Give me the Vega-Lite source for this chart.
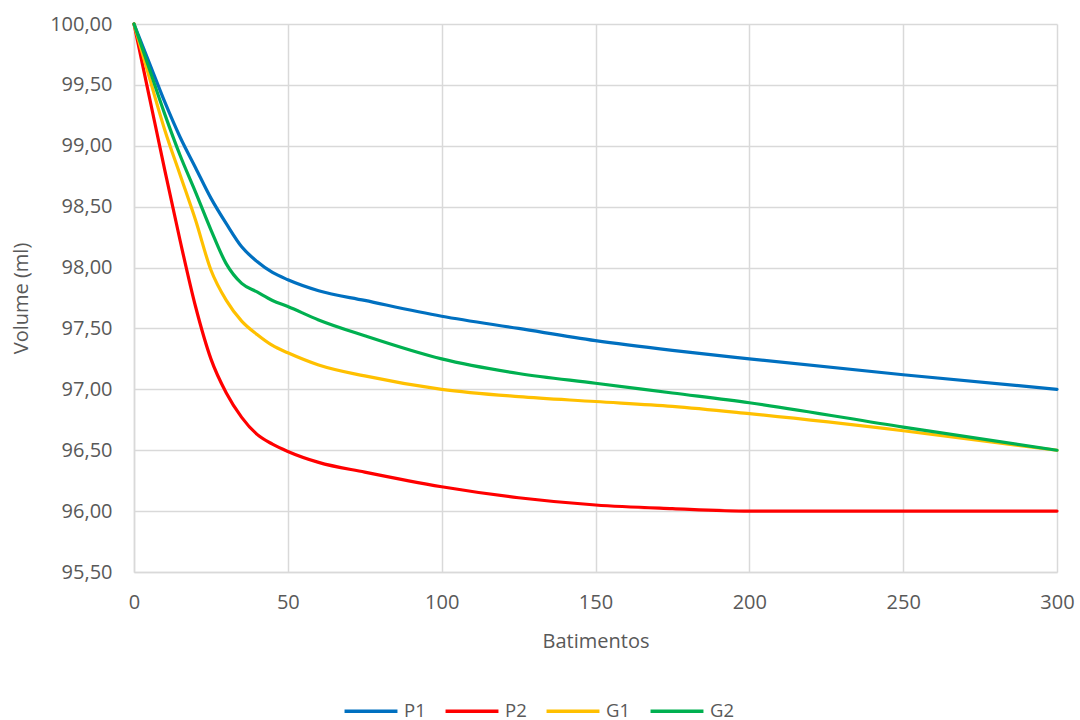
{
  "$schema": "https://vega.github.io/schema/vega-lite/v6.json",
  "width": 923,
  "height": 548,
  "autosize": {"type": "none"},
  "padding": {"left": 134, "top": 24, "right": 23, "bottom": 148},
  "background": "white",
  "config": {
    "locale": {"number": {"decimal": ",", "thousands": ".", "grouping": [3], "currency": ["", ""]}},
    "font": "Open Sans",
    "view": {"stroke": null},
    "axis": {
      "labelFont": "Open Sans", "titleFont": "Open Sans",
      "labelColor": "#595959", "titleColor": "#595959",
      "labelFontSize": 20, "titleFontSize": 20, "titleFontWeight": "normal",
      "labelFlush": false,
      "gridColor": "#D9D9D9", "gridWidth": 1.5, "domainColor": "#D9D9D9", "domainWidth": 1.5, "ticks": false
    },
    "legend": {"labelFont": "Open Sans", "labelFontSize": 18.5, "labelColor": "#595959"}
  },
  "data": {"values": [
    {"b": 0, "v": 100, "s": "P1"}, {"b": 5, "v": 99.68, "s": "P1"}, {"b": 10, "v": 99.36, "s": "P1"}, {"b": 15, "v": 99.07, "s": "P1"}, {"b": 20, "v": 98.82, "s": "P1"}, {"b": 25, "v": 98.57, "s": "P1"}, {"b": 30, "v": 98.36, "s": "P1"}, {"b": 35, "v": 98.17, "s": "P1"}, {"b": 40, "v": 98.05, "s": "P1"}, {"b": 45, "v": 97.96, "s": "P1"}, {"b": 50, "v": 97.9, "s": "P1"}, {"b": 60, "v": 97.81, "s": "P1"}, {"b": 75, "v": 97.73, "s": "P1"}, {"b": 100, "v": 97.6, "s": "P1"}, {"b": 125, "v": 97.5, "s": "P1"}, {"b": 150, "v": 97.4, "s": "P1"}, {"b": 175, "v": 97.32, "s": "P1"}, {"b": 200, "v": 97.25, "s": "P1"}, {"b": 250, "v": 97.12, "s": "P1"}, {"b": 300, "v": 97.0, "s": "P1"},
    {"b": 0, "v": 100, "s": "P2"}, {"b": 5, "v": 99.4, "s": "P2"}, {"b": 10, "v": 98.8, "s": "P2"}, {"b": 15, "v": 98.22, "s": "P2"}, {"b": 20, "v": 97.68, "s": "P2"}, {"b": 25, "v": 97.25, "s": "P2"}, {"b": 30, "v": 96.97, "s": "P2"}, {"b": 35, "v": 96.77, "s": "P2"}, {"b": 40, "v": 96.63, "s": "P2"}, {"b": 45, "v": 96.55, "s": "P2"}, {"b": 50, "v": 96.49, "s": "P2"}, {"b": 60, "v": 96.4, "s": "P2"}, {"b": 75, "v": 96.32, "s": "P2"}, {"b": 100, "v": 96.2, "s": "P2"}, {"b": 125, "v": 96.11, "s": "P2"}, {"b": 150, "v": 96.05, "s": "P2"}, {"b": 175, "v": 96.02, "s": "P2"}, {"b": 200, "v": 96.0, "s": "P2"}, {"b": 250, "v": 96.0, "s": "P2"}, {"b": 300, "v": 96.0, "s": "P2"},
    {"b": 0, "v": 100, "s": "G1"}, {"b": 5, "v": 99.56, "s": "G1"}, {"b": 10, "v": 99.13, "s": "G1"}, {"b": 15, "v": 98.76, "s": "G1"}, {"b": 20, "v": 98.39, "s": "G1"}, {"b": 25, "v": 97.98, "s": "G1"}, {"b": 30, "v": 97.73, "s": "G1"}, {"b": 35, "v": 97.56, "s": "G1"}, {"b": 40, "v": 97.45, "s": "G1"}, {"b": 45, "v": 97.36, "s": "G1"}, {"b": 50, "v": 97.3, "s": "G1"}, {"b": 60, "v": 97.2, "s": "G1"}, {"b": 75, "v": 97.11, "s": "G1"}, {"b": 100, "v": 97.0, "s": "G1"}, {"b": 125, "v": 96.94, "s": "G1"}, {"b": 150, "v": 96.9, "s": "G1"}, {"b": 175, "v": 96.86, "s": "G1"}, {"b": 200, "v": 96.8, "s": "G1"}, {"b": 250, "v": 96.66, "s": "G1"}, {"b": 300, "v": 96.5, "s": "G1"},
    {"b": 0, "v": 100, "s": "G2"}, {"b": 5, "v": 99.63, "s": "G2"}, {"b": 10, "v": 99.26, "s": "G2"}, {"b": 15, "v": 98.92, "s": "G2"}, {"b": 20, "v": 98.62, "s": "G2"}, {"b": 25, "v": 98.31, "s": "G2"}, {"b": 30, "v": 98.03, "s": "G2"}, {"b": 35, "v": 97.87, "s": "G2"}, {"b": 40, "v": 97.8, "s": "G2"}, {"b": 45, "v": 97.73, "s": "G2"}, {"b": 50, "v": 97.68, "s": "G2"}, {"b": 60, "v": 97.57, "s": "G2"}, {"b": 75, "v": 97.44, "s": "G2"}, {"b": 100, "v": 97.25, "s": "G2"}, {"b": 125, "v": 97.13, "s": "G2"}, {"b": 150, "v": 97.05, "s": "G2"}, {"b": 175, "v": 96.97, "s": "G2"}, {"b": 200, "v": 96.89, "s": "G2"}, {"b": 250, "v": 96.69, "s": "G2"}, {"b": 300, "v": 96.5, "s": "G2"}
  ]},
  "mark": {"type": "line", "interpolate": "monotone", "strokeWidth": 3.2, "strokeCap": "round"},
  "encoding": {
    "x": {"field": "b", "type": "quantitative", "title": "Batimentos",
      "scale": {"domain": [0, 300], "nice": false},
      "axis": {"values": [0, 50, 100, 150, 200, 250, 300], "labelPadding": 20, "titlePadding": 19, "grid": true}},
    "y": {"field": "v", "type": "quantitative", "title": "Volume (ml)",
      "scale": {"domain": [95.5, 100], "nice": false, "zero": false},
      "axis": {"values": [95.5, 96, 96.5, 97, 97.5, 98, 98.5, 99, 99.5, 100], "format": ".2f", "labelPadding": 22, "titlePadding": 18, "grid": true}},
    "color": {"field": "s", "type": "nominal", "sort": ["P1", "P2", "G1", "G2"],
      "scale": {"domain": ["P1", "P2", "G1", "G2"], "range": ["#0070C0", "#FF0000", "#FFC000", "#00B050"]},
      "legend": {"title": null, "orient": "none", "direction": "horizontal", "legendX": 222, "legendY": 672,
        "symbolType": "M-2,0H2", "symbolSize": 700, "symbolStrokeWidth": 3.5, "columnPadding": 12, "labelOffset": 18}}
  }
}
